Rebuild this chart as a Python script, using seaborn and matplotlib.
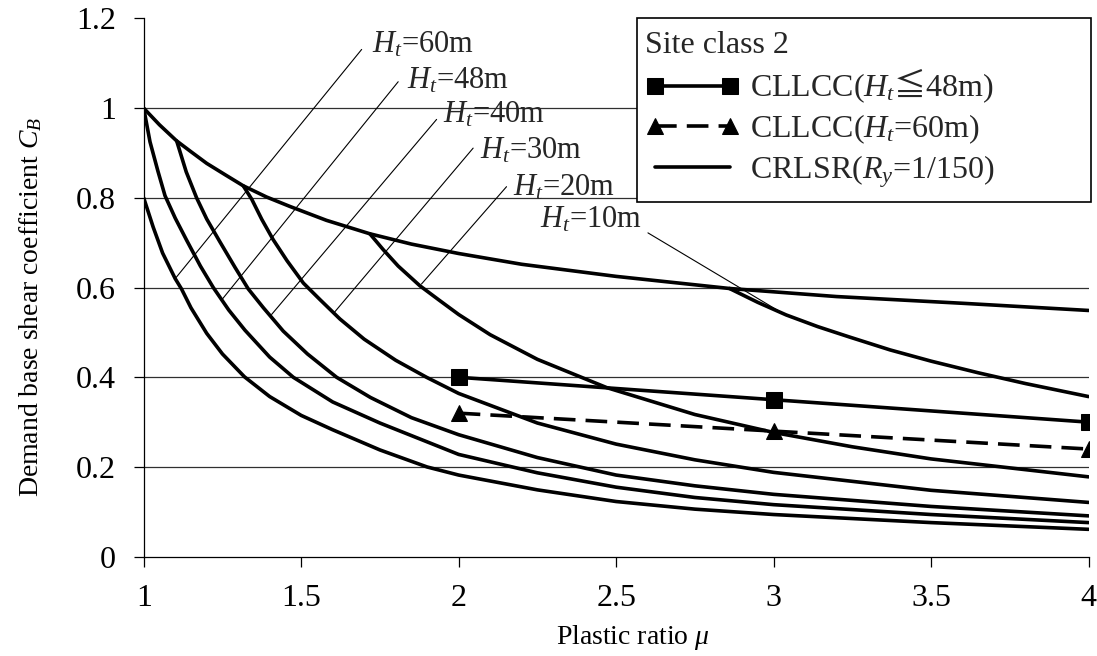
import numpy as np
import pandas as pd
import matplotlib
matplotlib.use("Agg")
import matplotlib.pyplot as plt
from matplotlib.patches import Rectangle
from matplotlib.ticker import FormatStrFormatter
import seaborn as sns

# ---- data -------------------------------------------------------------
# CRLSR (R_y = 1/150) envelope
mu_crlsr = [1.0, 1.05, 1.1047, 1.15, 1.2, 1.26, 1.316, 1.39, 1.464, 1.58, 1.718,
            1.85, 2.0, 2.2, 2.5, 2.86, 3.2, 3.6, 4.0]
cb_crlsr = [1.0, 0.963, 0.927, 0.903, 0.877, 0.851, 0.827, 0.802, 0.781, 0.750, 0.720,
            0.697, 0.676, 0.652, 0.625, 0.598, 0.580, 0.565, 0.549]

# Demand curves for each building height (part below the CRLSR envelope)
mu_h60 = [1.0, 1.03, 1.06, 1.1, 1.12, 1.15, 1.2, 1.25, 1.32, 1.4, 1.5, 1.6, 1.75,
          1.9, 2.0, 2.25, 2.5, 2.75, 3.0, 3.5, 4.0]
cb_h60 = [0.80, 0.735, 0.677, 0.620, 0.597, 0.555, 0.498, 0.452, 0.401, 0.357, 0.315,
          0.283, 0.238, 0.200, 0.182, 0.149, 0.123, 0.106, 0.094, 0.076, 0.061]

mu_h48 = [1.0, 1.02, 1.045, 1.0676, 1.1, 1.136, 1.18, 1.221, 1.27, 1.3215, 1.4, 1.475,
          1.6, 1.75, 1.9, 2.0, 2.25, 2.5, 2.75, 3.0, 3.5, 4.0]
cb_h48 = [1.0, 0.925, 0.860, 0.805, 0.755, 0.706, 0.648, 0.600, 0.550, 0.505, 0.445, 0.400,
          0.345, 0.298, 0.256, 0.228, 0.187, 0.155, 0.132, 0.116, 0.094, 0.076]

mu_h40 = [1.1047, 1.135, 1.168, 1.2, 1.242, 1.29, 1.332, 1.38, 1.443, 1.52, 1.6125,
          1.72, 1.85, 2.0, 2.25, 2.5, 2.75, 3.0, 3.5, 4.0]
cb_h40 = [0.927, 0.858, 0.800, 0.753, 0.702, 0.645, 0.597, 0.555, 0.503, 0.452, 0.400,
          0.355, 0.310, 0.272, 0.221, 0.182, 0.158, 0.139, 0.112, 0.091]

mu_h30 = [1.316, 1.343, 1.375, 1.411, 1.455, 1.507, 1.56, 1.623, 1.7, 1.8, 1.898,
          2.0, 2.25, 2.5, 2.75, 3.0, 3.5, 4.0]
cb_h30 = [0.827, 0.797, 0.752, 0.707, 0.660, 0.610, 0.573, 0.530, 0.485, 0.438, 0.400,
          0.364, 0.298, 0.251, 0.216, 0.188, 0.148, 0.121]

mu_h20 = [1.718, 1.76, 1.808, 1.877, 1.94, 2.0, 2.1, 2.25, 2.47, 2.75, 3.0, 3.25, 3.5, 4.0]
cb_h20 = [0.720, 0.685, 0.648, 0.604, 0.571, 0.540, 0.495, 0.440, 0.377, 0.317, 0.277,
          0.245, 0.218, 0.178]

mu_h10 = [2.86, 2.95, 3.04, 3.14, 3.24, 3.37, 3.5, 3.65, 3.8, 4.0]
cb_h10 = [0.598, 0.567, 0.539, 0.513, 0.490, 0.461, 0.436, 0.410, 0.386, 0.357]

# CLLCC design values
mu_cllcc = [2, 3, 4]
cb_cllcc_48 = [0.40, 0.35, 0.30]
cb_cllcc_60 = [0.32, 0.28, 0.24]

# height labels: text, anchor (left/baseline), leader line end on curve, leader line top
height_labels = [r"$H_t$=$\mathit{60}$m", r"$H_t$=$\mathit{48}$m", r"$H_t$=$\mathit{40}$m",
                 r"$H_t$=$\mathit{30}$m", r"$H_t$=$\mathit{20}$m", r"$H_t$=$\mathit{10}$m"]
label_x = [1.724, 1.835, 1.950, 2.067, 2.173, 2.258]
label_y = [1.124, 1.045, 0.968, 0.887, 0.806, 0.734]
leader_x0 = [1.100, 1.247, 1.406, 1.602, 1.882, 3.035]
leader_y0 = [0.620, 0.572, 0.540, 0.542, 0.608, 0.540]
leader_x1 = [1.692, 1.808, 1.930, 2.046, 2.152, 2.601]
leader_y1 = [1.131, 1.059, 0.975, 0.911, 0.825, 0.722]

x_ticks = [1, 1.5, 2, 2.5, 3, 3.5, 4]
y_ticks = [0, 0.2, 0.4, 0.6, 0.8, 1.0, 1.2]

legend_title = "Site class 2"
legend_labels = [r"CLLCC($H_t$$\mathsf{≦}$48m)", r"CLLCC($H_t$=60m)", r"CRLSR($R_y$=1/150)"]

# ---- style ------------------------------------------------------------
sns.set_theme(style="white")
plt.rcParams["font.family"] = ["Liberation Serif", "DejaVu Serif"]
plt.rcParams["mathtext.fontset"] = "custom"
plt.rcParams["mathtext.rm"] = "Liberation Serif"
plt.rcParams["mathtext.it"] = "Liberation Serif:italic"
plt.rcParams["mathtext.bf"] = "Liberation Serif:bold"
plt.rcParams["mathtext.sf"] = "Noto Sans CJK JP"
plt.rcParams["mathtext.fallback"] = "stix"

fig = plt.figure(figsize=(10.97, 6.56), dpi=100)
ax = fig.add_axes([0.131, 0.1514, 0.8613, 0.8204])

LW = 2.6
curves = [(mu_crlsr, cb_crlsr), (mu_h60, cb_h60), (mu_h48, cb_h48), (mu_h40, cb_h40),
          (mu_h30, cb_h30), (mu_h20, cb_h20), (mu_h10, cb_h10)]
for mx, cy in curves:
    sns.lineplot(x=mx, y=cy, ax=ax, color="black", linewidth=LW,
                 sort=False, estimator=None, legend=False)

sns.lineplot(x=mu_cllcc, y=cb_cllcc_48, ax=ax, color="black", linewidth=LW,
             marker="s", markersize=11, markeredgecolor="black",
             sort=False, estimator=None, label=legend_labels[0])
sns.lineplot(x=mu_cllcc, y=cb_cllcc_60, ax=ax, color="black", linewidth=LW,
             linestyle=(0, (6, 2.8)), marker="^", markersize=11,
             markeredgecolor="black", sort=False, estimator=None,
             label=legend_labels[1])

# leader lines and height labels
for txt, tx, ty, x0, y0, x1, y1 in zip(height_labels, label_x, label_y,
                                        leader_x0, leader_y0, leader_x1, leader_y1):
    ax.plot([x0, x1], [y0, y1], color="black", lw=0.8)
    ax.text(tx, ty, txt, fontsize=22, ha="left", va="baseline")

# ---- axes ---------------------------------------------------------------
ax.set_xlim(1, 4)
ax.set_ylim(0, 1.2)
ax.set_xticks(x_ticks)
ax.set_yticks(y_ticks)
ax.xaxis.set_major_formatter(FormatStrFormatter("%g"))
ax.yaxis.set_major_formatter(FormatStrFormatter("%g"))
ax.tick_params(axis="both", which="major", direction="out", length=7, width=0.9,
               color="black", labelsize=23, labelcolor="black", pad=13,
               bottom=True, left=True)
for side in ["top", "right"]:
    ax.spines[side].set_visible(False)
for side in ["left", "bottom"]:
    ax.spines[side].set_color("black")
    ax.spines[side].set_linewidth(0.9)

ax.yaxis.grid(True, color="#303030", linewidth=0.9)
ax.xaxis.grid(False)
ax.set_axisbelow(True)
ax.yaxis.get_gridlines()[-1].set_visible(False)
ax.yaxis.get_gridlines()[0].set_visible(False)

ax.set_xlabel(r"Plastic ratio $\mu$", fontsize=20, color="black")
ax.set_ylabel(r"Demand base shear coefficient $C_B$", fontsize=20, color="black")
ax.xaxis.set_label_coords(0.518, -0.124)
ax.yaxis.set_label_coords(-0.1055, 0.464)

# legend: white box with black border, entries placed inside it
box = Rectangle((0.5221, 0.659), 1.0023 - 0.5221, 1.0009 - 0.659,
                transform=ax.transAxes, facecolor="white", edgecolor="black",
                linewidth=1.2, clip_on=False, zorder=4)
ax.add_patch(box)

crlsr_handle = plt.Line2D([], [], color="black", linewidth=LW)
handles, labels = ax.get_legend_handles_labels()
handles = handles[:2] + [crlsr_handle]
leg = ax.legend(handles, legend_labels, title=legend_title, title_fontsize=23,
                fontsize=23, loc="upper left", bbox_to_anchor=(0.5306, 0.977),
                borderaxespad=0, borderpad=0, numpoints=2, handlelength=2.97,
                handletextpad=0.31, labelspacing=0.22, alignment="left",
                frameon=False)
leg.set_zorder(5)

fig.savefig("out.png", dpi=100)
